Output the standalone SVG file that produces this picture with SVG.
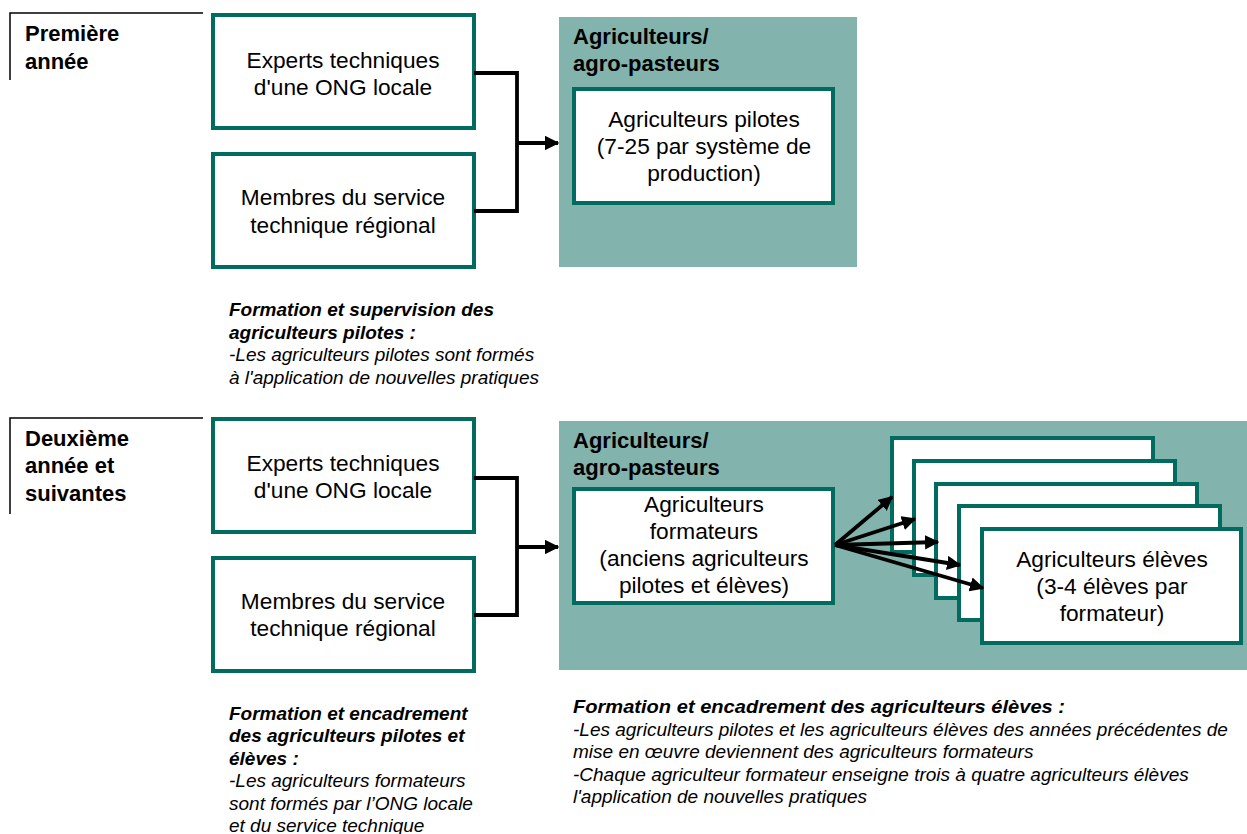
<svg xmlns="http://www.w3.org/2000/svg" width="1247" height="834" viewBox="0 0 1247 834">
<defs>
<style>
.t{font-family:"Liberation Sans",Arial,sans-serif;font-size:22.7px;fill:#000}
.c{text-anchor:middle}
.b{font-weight:bold}
.h{font-size:22px}
.cap{font-family:"Liberation Sans",Arial,sans-serif;font-size:19px;font-style:italic;fill:#000}
.box{fill:#fff;stroke:#006B5E;stroke-width:4}
.panel{fill:#82B3AD}
.lbl{fill:none;stroke:#000;stroke-width:1.5}
.con{fill:none;stroke:#000;stroke-width:3.8}
</style>
<marker id="ah" viewBox="0 0 10 10" refX="9" refY="5" markerWidth="3.8" markerHeight="3.8" orient="auto" markerUnits="strokeWidth">
<path d="M0,0 L10,5 L0,10 z" fill="#000"/>
</marker>
</defs>
<rect width="1247" height="834" fill="#fff"/>

<g id="label1">
<path class="lbl" d="M10,80 V13 H203"/>
<text class="t b h" x="25" y="41">Première</text>
<text class="t b h" x="25" y="69">année</text>
</g>
<g id="label2">
<path class="lbl" d="M10,514 V418 H203"/>
<text class="t b h" x="25" y="446">Deuxième</text>
<text class="t b h" x="25" y="473">année et</text>
<text class="t b h" x="25" y="501">suivantes</text>
</g>

<g id="experts1">
<rect class="box" x="213" y="15" width="261" height="113"/>
<text class="t c" x="343" y="68">Experts techniques</text>
<text class="t c" x="343" y="95">d'une ONG locale</text>
</g>
<g id="membres1">
<rect class="box" x="213" y="154" width="261" height="113"/>
<text class="t c" x="343" y="205">Membres du service</text>
<text class="t c" x="343" y="233">technique régional</text>
</g>

<g id="panel1">
<rect class="panel" x="559" y="17" width="298" height="250"/>
<text class="t b h" x="573" y="44">Agriculteurs/</text>
<text class="t b h" x="573" y="71">agro-pasteurs</text>
</g>
<g id="pilotes">
<rect class="box" x="574" y="89" width="259" height="114"/>
<text class="t c" x="704" y="127">Agriculteurs pilotes</text>
<text class="t c" x="704" y="154">(7-25 par système de</text>
<text class="t c" x="704" y="181">production)</text>
</g>

<g id="caption1">
<text class="cap b" x="229" y="316">Formation et supervision des</text>
<text class="cap b" x="229" y="339">agriculteurs pilotes :</text>
<text class="cap" x="229" y="361">-Les agriculteurs pilotes sont formés</text>
<text class="cap" x="229" y="384">à l'application de nouvelles pratiques</text>
</g>

<g id="experts2">
<rect class="box" x="213" y="419" width="261" height="113"/>
<text class="t c" x="343" y="471">Experts techniques</text>
<text class="t c" x="343" y="498">d'une ONG locale</text>
</g>
<g id="membres2">
<rect class="box" x="213" y="558" width="261" height="113"/>
<text class="t c" x="343" y="609">Membres du service</text>
<text class="t c" x="343" y="636">technique régional</text>
</g>

<g id="panel2">
<rect class="panel" x="559" y="421" width="688" height="249"/>
<text class="t b h" x="573" y="448">Agriculteurs/</text>
<text class="t b h" x="573" y="475">agro-pasteurs</text>
</g>
<g id="formateurs">
<rect class="box" x="574" y="489" width="259" height="114"/>
<text class="t c" x="704" y="512">Agriculteurs</text>
<text class="t c" x="704" y="539">formateurs</text>
<text class="t c" x="704" y="566">(anciens agriculteurs</text>
<text class="t c" x="704" y="593">pilotes et élèves)</text>
</g>

<g id="eleves">
<rect class="box" x="892" y="438" width="261" height="114"/>
<rect class="box" x="914" y="461" width="261" height="114"/>
<rect class="box" x="936" y="484" width="261" height="114"/>
<rect class="box" x="959" y="506" width="261" height="114"/>
<rect class="box" x="982" y="529" width="259" height="114"/>
<text class="t c" x="1112" y="567">Agriculteurs élèves</text>
<text class="t c" x="1112" y="594">(3-4 élèves par</text>
<text class="t c" x="1112" y="621">formateur)</text>
</g>

<g id="connectors">
<path class="con" d="M474,73 H517 V211 H474"/>
<path class="con" d="M517,143 H558" marker-end="url(#ah)"/>
<path class="con" d="M474,478 H517 V615 H474"/>
<path class="con" d="M517,547 H558" marker-end="url(#ah)"/>
<path class="con" d="M835,545 L892,497" marker-end="url(#ah)"/>
<path class="con" d="M835,545 L915,519" marker-end="url(#ah)"/>
<path class="con" d="M835,545 L938,542" marker-end="url(#ah)"/>
<path class="con" d="M835,545 L960,565" marker-end="url(#ah)"/>
<path class="con" d="M835,545 L983,588" marker-end="url(#ah)"/>
</g>

<g id="caption2">
<text class="cap b" x="229" y="720">Formation et encadrement</text>
<text class="cap b" x="229" y="742">des agriculteurs pilotes et</text>
<text class="cap b" x="229" y="765">élèves :</text>
<text class="cap" x="229" y="787">-Les agriculteurs formateurs</text>
<text class="cap" x="229" y="810">sont formés par l’ONG locale</text>
<text class="cap" x="229" y="832">et du service technique</text>
</g>
<g id="caption3">
<text class="cap b" x="573" y="713" textLength="492" lengthAdjust="spacingAndGlyphs">Formation et encadrement des agriculteurs élèves :</text>
<text class="cap" x="573" y="736">-Les agriculteurs pilotes et les agriculteurs élèves des années précédentes de</text>
<text class="cap" x="573" y="758">mise en œuvre deviennent des agriculteurs formateurs</text>
<text class="cap" x="573" y="781">-Chaque agriculteur formateur enseigne trois à quatre agriculteurs élèves</text>
<text class="cap" x="573" y="803">l'application de nouvelles pratiques</text>
</g>
</svg>
